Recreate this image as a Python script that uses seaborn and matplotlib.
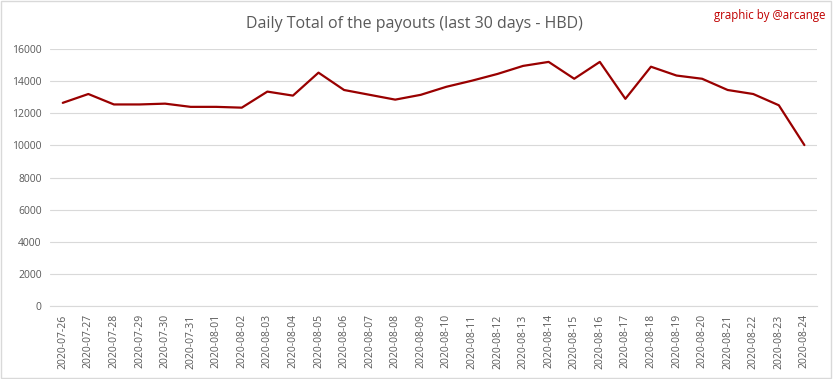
import matplotlib
matplotlib.use("Agg")
import matplotlib.pyplot as plt
import numpy as np
import pandas as pd
import seaborn as sns

# data
dates = ["2020-07-26", "2020-07-27", "2020-07-28", "2020-07-29", "2020-07-30",
         "2020-07-31", "2020-08-01", "2020-08-02", "2020-08-03", "2020-08-04",
         "2020-08-05", "2020-08-06", "2020-08-07", "2020-08-08", "2020-08-09",
         "2020-08-10", "2020-08-11", "2020-08-12", "2020-08-13", "2020-08-14",
         "2020-08-15", "2020-08-16", "2020-08-17", "2020-08-18", "2020-08-19",
         "2020-08-20", "2020-08-21", "2020-08-22", "2020-08-23", "2020-08-24"]
payouts = [12650, 13200, 12550, 12550, 12600, 12400, 12400, 12350, 13350, 13100,
           14530, 13450, 13150, 12850, 13150, 13650, 14030, 14450, 14950, 15200,
           14150, 15200, 12900, 14900, 14350, 14150, 13450, 13200, 12500, 10020]
yticks = [0, 2000, 4000, 6000, 8000, 10000, 12000, 14000, 16000]

sns.set_theme(style="white")
plt.rcParams['font.family'] = ['Open Sans', 'DejaVu Sans']

df = pd.DataFrame({"idx": np.arange(len(dates)), "payout": payouts})

fig = plt.figure(figsize=(8.33, 3.79), dpi=100)
ax = fig.add_axes([0.060, 0.1926, 0.921, 0.678])
sns.lineplot(data=df, x="idx", y="payout", ax=ax, color="#990000", linewidth=1.6)

ax.set_xlim(-0.5, len(dates) - 0.5)
ax.set_ylim(0, 16000)
ax.set_yticks(yticks)
ax.set_yticklabels([str(v) for v in yticks])
ax.set_xticks(np.arange(len(dates)))
ax.set_xticklabels(dates, rotation=90)
ax.tick_params(axis="both", labelsize=7.5, colors="#595959", length=0, pad=6)
ax.set_xlabel("")
ax.set_ylabel("")
ax.grid(axis="y", color="#d9d9d9", linewidth=0.8)
ax.set_axisbelow(True)
for s in ["top", "right", "left"]:
    ax.spines[s].set_visible(False)
ax.spines["bottom"].set_color("#d9d9d9")
ax.spines["bottom"].set_linewidth(0.8)

fig.text(0.498, 0.936, "Daily Total of the payouts (last 30 days - HBD)",
         ha="center", va="center", fontsize=11.5, color="#595959")
fig.text(0.991, 0.958, "graphic by @arcange", ha="right", va="center",
         fontsize=8.3, color="#c00000")

# thin grey frame around the figure
fig.patches.append(plt.Rectangle((0.001, 0.002), 0.997, 0.995, transform=fig.transFigure,
                                 fill=False, edgecolor="#d9d9d9", linewidth=1))

fig.savefig("out.png", dpi=100)
